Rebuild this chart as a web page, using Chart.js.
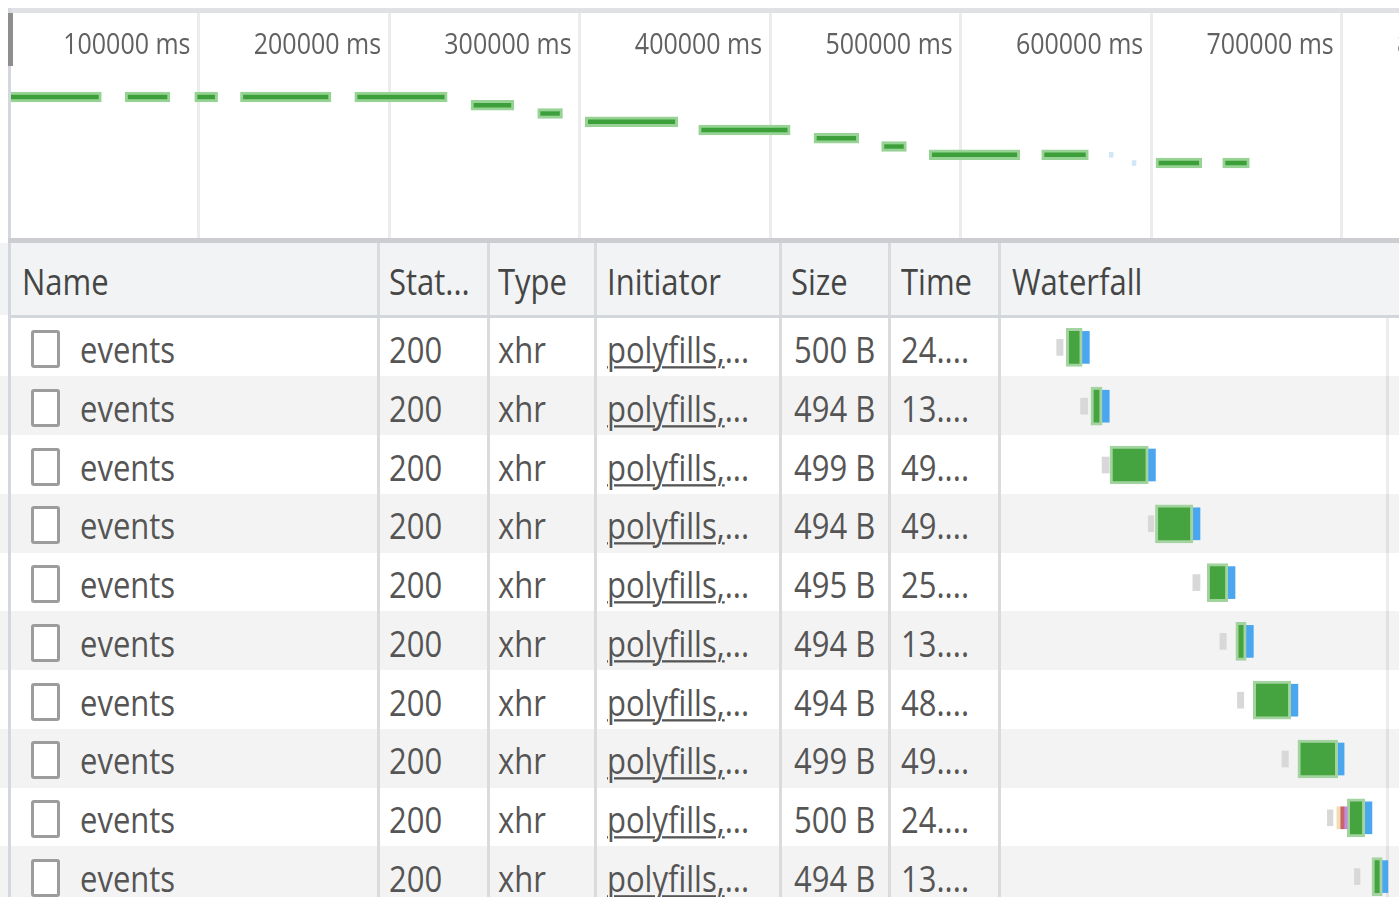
<!DOCTYPE html>
<html>
<head>
<meta charset="utf-8">
<title>Network</title>
<script src="https://cdn.jsdelivr.net/npm/chart.js@4.4.1/dist/chart.umd.min.js"></script>
<style>
  html, body { margin: 0; padding: 0; background: #fff; overflow: hidden; }
  body { width: 1399px; height: 897px; position: relative;
         font-family: "Segoe UI", "Open Sans", sans-serif; font-size: 31px; color: #555;
         filter: blur(0.6px); }
  .abs { position: absolute; }
  #topBorder { left: 8px; top: 8px; width: 1391px; height: 5px; background: #dfe1e5; z-index: 5; }
  #overviewBottom { left: 8px; top: 238px; width: 1391px; height: 5px; background: #cbcdd1; z-index: 5; }
  #leftBorder { left: 8px; top: 8px; width: 3px; height: 889px; background: #d3d8e0; z-index: 5; }
  #handle { left: 8px; top: 13px; width: 5px; height: 53px; background: #8e8e8e; z-index: 6; }
  #overviewBox { left: 8px; top: 13px; width: 1591px; height: 225px; z-index: 2; }
  #header { left: 0; top: 243px; width: 1399px; height: 72px; background: #f1f3f4; color: #454545; z-index: 1; }
  #headerBottom { left: 8px; top: 315px; width: 1391px; height: 3px; background: #d3d6da; z-index: 4; }
  .row { position: absolute; left: 0; width: 1399px; height: 58.75px; z-index: 1; }
  .cell { position: absolute; top: 2.5px; white-space: nowrap; line-height: 58.75px; }
  #header .cell { top: 2px; line-height: 72px; }
  .cell span { display: inline-block; transform: scaleY(1.15); }
  .cell u { text-decoration-thickness: 2px; text-underline-offset: 3px; }
  .sep { position: absolute; top: 243px; width: 3px; height: 654px; background: #d9dcdf; z-index: 2; }
  .cb { position: absolute; width: 23px; height: 32px; border: 3px solid #9c9c9c; border-radius: 3px; background: #fff; }
  #wfLine { left: 1386px; top: 318px; width: 3px; height: 579px; background: rgba(0,0,0,0.07); z-index: 2; }
  #waterfallBox { left: 1001px; top: 317.5px; width: 398px; height: 588px; z-index: 3; }
</style>
</head>
<body>
<div id="topBorder" class="abs"></div>
<div id="leftBorder" class="abs"></div>
<div id="handle" class="abs"></div>
<div id="overviewBox" class="abs"><canvas id="overviewChart" width="1591" height="225"></canvas></div>
<div id="overviewBottom" class="abs"></div>
<div id="header" class="abs"></div>
<div id="headerBottom" class="abs"></div>
<div id="wfLine" class="abs"></div>
<div id="waterfallBox" class="abs"><canvas id="waterfallChart" width="398" height="588"></canvas></div>

<script>
// overview timeline (ms)
const timeTicks = [100000, 200000, 300000, 400000, 500000, 600000, 700000, 800000];
const timeUnit = 'ms';

const requestLane  = [1, 1, 1, 1, 1, 2, 3, 4, 5, 6, 7, 8, 8, 9, 9];
const requestStart = [0, 61500, 98000, 122000, 182000, 243000, 278000, 303000, 362500, 423000, 458500, 483500, 542500, 602500, 637500];
const requestEnd   = [49000, 85000, 110000, 169500, 230500, 265500, 291000, 351500, 410500, 446500, 471500, 531000, 567000, 626500, 651500];

const shortLane  = [8, 9];
const shortStart = [578000, 590000];
const shortEnd   = [580000, 592000];

// table
const columns     = ['Name', 'Stat...', 'Type', 'Initiator', 'Size', 'Time', 'Waterfall'];
const names       = ['events', 'events', 'events', 'events', 'events', 'events', 'events', 'events', 'events', 'events'];
const statuses    = ['200', '200', '200', '200', '200', '200', '200', '200', '200', '200'];
const types       = ['xhr', 'xhr', 'xhr', 'xhr', 'xhr', 'xhr', 'xhr', 'xhr', 'xhr', 'xhr'];
const initiators  = ['polyfills,', 'polyfills,', 'polyfills,', 'polyfills,', 'polyfills,', 'polyfills,', 'polyfills,', 'polyfills,', 'polyfills,', 'polyfills,'];
const sizes       = ['500 B', '494 B', '499 B', '494 B', '495 B', '494 B', '494 B', '499 B', '500 B', '494 B'];
const times       = ['24....', '13....', '49....', '49....', '25....', '13....', '48....', '49....', '24....', '13....'];

// waterfall (s)
const queueStart  = [70, 100, 127, 185, 241, 275, 297, 353, 410, 444];
const queueEnd    = [78, 109, 136, 192, 250, 283, 305, 361, 417, 451];
const waitStart   = [82, 113, 137, 194, 259, 295, 317, 373, 435, 466];
const waitEnd     = [102, 127, 185, 241, 285, 308, 364, 423, 457, 479];
const downloadEnd = [111, 136, 194, 250, 294, 317, 373, 431, 466, 486];
const dnsRange     = [null, null, null, null, null, null, null, null, [422, 426], null];
const connectRange = [null, null, null, null, null, null, null, null, [426, 431], null];
const sslRange     = [null, null, null, null, null, null, null, null, [431, 435], null];

//==============================================================================
// table layout
const headerX = [22, 389, 498, 607, 791, 901, 1012];
const sepX = [377, 487, 594, 779, 888, 998];
const rowTop = 317.5;
const rowH = 58.75;

function cell(parent, x, html) {
  const d = document.createElement('div');
  d.className = 'cell';
  d.style.left = x + 'px';
  d.innerHTML = '<span>' + html + '</span>';
  parent.appendChild(d);
  return d;
}

const header = document.getElementById('header');
columns.forEach((c, i) => cell(header, headerX[i], c));

names.forEach((name, i) => {
  const row = document.createElement('div');
  row.className = 'row';
  row.style.top = (rowTop + i * rowH) + 'px';
  row.style.background = i % 2 ? '#f3f3f3' : '#ffffff';
  const cb = document.createElement('div');
  cb.className = 'cb';
  cb.style.left = '31px';
  cb.style.top = '12.5px';
  row.appendChild(cb);
  cell(row, 80, name);
  cell(row, 389, statuses[i]);
  cell(row, 498, types[i]);
  cell(row, 607, '<u>' + initiators[i] + '</u>...');
  cell(row, 794, sizes[i]);
  cell(row, 901, times[i]);
  document.body.appendChild(row);
});

sepX.forEach(x => {
  const s = document.createElement('div');
  s.className = 'sep';
  s.style.left = x + 'px';
  document.body.appendChild(s);
});

//==============================================================================
// overview
const overviewLabels = {
  id: 'overviewLabels',
  afterDraw(chart) {
    const sx = chart.scales.x;
    const ctx = chart.ctx;
    ctx.save();
    ctx.font = '25px "Segoe UI", "Open Sans", sans-serif';
    ctx.fillStyle = '#616161';
    ctx.textAlign = 'right';
    ctx.textBaseline = 'alphabetic';
    sx.ticks.forEach(t => {
      const px = sx.getPixelForValue(t.value);
      ctx.save();
      ctx.translate(px - 8, 41);
      ctx.scale(1, 1.15);
      ctx.fillText(t.label, 0, 0);
      ctx.restore();
    });
    ctx.restore();
  }
};

const ctxO = document.getElementById('overviewChart').getContext('2d');
const overviewChart = new Chart(ctxO, {
  type: 'bar',
  data: {
    datasets: [
      {
        label: 'events',
        data: requestLane.map((lane, i) => ({ x: [requestStart[i], requestEnd[i]], y: lane })),
        backgroundColor: '#3d9f3a',
        borderColor: '#97d394',
        borderWidth: 3,
        barThickness: 10,
        maxBarThickness: 10,
      },
      {
        label: 'short',
        data: shortLane.map((lane, i) => ({ x: [shortStart[i], shortEnd[i]], y: lane })),
        backgroundColor: '#cfe7f7',
        borderWidth: 0,
        barThickness: 5,
        maxBarThickness: 5,
      },
    ]
  },
  options: {
    indexAxis: 'y',
    responsive: false,
    animation: false,
    layout: { padding: 0 },
    datasets: { bar: { grouped: false, borderSkipped: false } },
    plugins: { legend: { display: false }, tooltip: { enabled: false } },
    scales: {
      x: {
        type: 'linear',
        min: 0,
        max: 835000,
        position: 'top',
        offset: false,
        border: { display: false },
        grid: { color: '#ececec', lineWidth: 3, drawTicks: false, offset: false },
        afterBuildTicks: (scale) => { scale.ticks = timeTicks.map(v => ({ value: v })); },
        ticks: {
          display: false,
          callback: (v) => v + ' ' + timeUnit,
        },
      },
      y: {
        type: 'linear',
        reverse: true,
        offset: false,
        min: -9.18,
        max: 18.09,
        display: false,
      },
    },
  },
  plugins: [overviewLabels],
});

//==============================================================================
// waterfall
const ctxW = document.getElementById('waterfallChart').getContext('2d');
const waterfallChart = new Chart(ctxW, {
  type: 'bar',
  data: {
    labels: names,
    datasets: [
      {
        label: 'Queueing',
        data: queueStart.map((s, i) => [s, queueEnd[i]]),
        backgroundColor: '#d8d8d8',
        barThickness: 16, maxBarThickness: 16,
      },
      {
        label: 'DNS Lookup',
        data: dnsRange,
        backgroundColor: '#f3dcae',
        barThickness: 22, maxBarThickness: 22,
      },
      {
        label: 'Initial connection',
        data: connectRange,
        backgroundColor: '#c8636b',
        barThickness: 22, maxBarThickness: 22,
      },
      {
        label: 'SSL',
        data: sslRange,
        backgroundColor: '#c38bdc',
        barThickness: 22, maxBarThickness: 22,
      },
      {
        label: 'Waiting (TTFB)',
        data: waitStart.map((s, i) => [s, waitEnd[i]]),
        backgroundColor: '#45a340',
        borderColor: '#a3d4a0',
        borderWidth: 3,
        barThickness: 38, maxBarThickness: 38,
      },
      {
        label: 'Content Download',
        data: waitEnd.map((s, i) => [s, downloadEnd[i]]),
        backgroundColor: '#4aa6ef',
        barThickness: 32, maxBarThickness: 32,
      },
    ]
  },
  options: {
    indexAxis: 'y',
    responsive: false,
    animation: false,
    layout: { padding: 0 },
    datasets: { bar: { grouped: false, borderSkipped: false } },
    plugins: { legend: { display: false }, tooltip: { enabled: false } },
    scales: {
      x: { type: 'linear', min: 0, max: 500, display: false },
      y: { type: 'category', display: false },
    },
  },
});
</script>
</body>
</html>
